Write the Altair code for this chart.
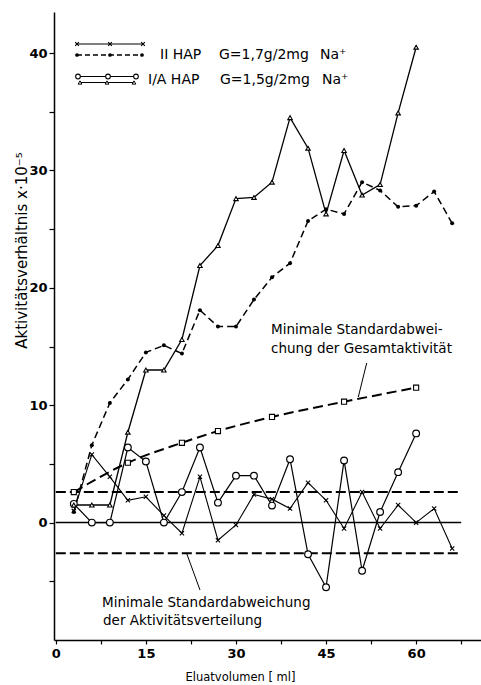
import altair as alt
import pandas as pd

# ---------------- data ----------------
vol_ii = [3, 6, 9, 12, 15, 18, 21, 24, 27, 30, 33, 36, 39, 42, 45, 48, 51, 54, 57, 60, 63, 66]
cross_vals = [1.0, 5.8, 3.9, 1.9, 2.2, 0.6, -0.9, 3.9, -1.5, -0.2, 2.4, 2.0, 1.2, 3.4, 1.9,
              -0.5, 2.6, -0.5, 1.5, 0.0, 1.2, -2.2]
dot_vals = [0.9, 6.6, 10.2, 12.2, 14.5, 15.1, 14.4, 18.1, 16.7, 16.7, 19.0, 20.9, 22.1, 25.7,
            26.7, 26.3, 29.0, 28.3, 26.9, 27.0, 28.2, 25.5]

vol_ia = [3, 6, 9, 12, 15, 18, 21, 24, 27, 30, 33, 36, 39, 42, 45, 48, 51, 54, 57, 60]
circle_vals = [1.6, 0.0, 0.0, 6.4, 5.2, 0.0, 2.6, 6.4, 1.7, 4.0, 4.0, 1.45, 5.4, -2.7, -5.5,
               5.3, -4.1, 0.9, 4.3, 7.6]
triangle_vals = [1.5, 1.5, 1.5, 7.7, 13.0, 13.0, 15.6, 21.9, 23.6, 27.6, 27.7, 29.0, 34.5,
                 31.9, 26.3, 31.7, 27.9, 28.8, 34.9, 40.5]

vol_std = [3, 12, 21, 27, 36, 48, 60]
std_total_vals = [2.6, 5.1, 6.8, 7.8, 9.0, 10.3, 11.5]

std_dist = 2.6          # +/- minimal standard deviation of the distribution
line_range = [0, 67.5]  # extent of the horizontal reference lines (ml)

x_ticks = [0, 7.5, 15, 22.5, 30, 37.5, 45, 52.5, 60, 67.5]
y_ticks = [-5, 0, 5, 10, 15, 20, 25, 30, 35, 40]

df_cross = pd.DataFrame({"ml": vol_ii, "v": cross_vals})
df_dot = pd.DataFrame({"ml": vol_ii, "v": dot_vals})
df_circle = pd.DataFrame({"ml": vol_ia, "v": circle_vals})
df_tri = pd.DataFrame({"ml": vol_ia, "v": triangle_vals})
df_std = pd.DataFrame({"ml": vol_std, "v": std_total_vals})

FONT = "DejaVu Sans"
INK = "black"

x_scale = alt.Scale(domain=[-0.3, 70.8], nice=False, zero=False)
y_scale = alt.Scale(domain=[-10, 43.5], nice=False, zero=False)

x_axis = alt.Axis(
    values=x_ticks,
    labelExpr="datum.value % 15 === 0 ? datum.label : ''",
    title="Eluatvolumen [ ml]",
    titleX=186, titleY=37, titleBaseline="middle", titleAlign="center",
    titleFontSize=11.5, titleFontWeight="normal",
    labelFontSize=13, labelFontWeight="bold", labelPadding=3,
    tickSize=4, labelFlush=False,
)
y_axis = alt.Axis(
    values=y_ticks,
    labelExpr="datum.value % 10 === 0 ? datum.label : ''",
    title="Aktivitätsverhältnis x·10⁻⁵",
    titleAngle=270, titleX=-33, titleY=238, titleBaseline="middle", titleAlign="center",
    titleFontSize=15, titleFontWeight="normal",
    labelFontSize=13, labelFontWeight="bold", labelPadding=2,
    tickSize=5,
)

X = alt.X("ml:Q", scale=x_scale, axis=x_axis)
Y = alt.Y("v:Q", scale=y_scale, axis=y_axis)

cross_path = "M-1,-1L1,1M-1,1L1,-1"

layers = []

# horizontal reference lines
for val, dash, w in [(0, None, 1.5), (std_dist, [10, 4], 2.0), (-std_dist, [10, 4], 2.0)]:
    kw = dict(color=INK, strokeWidth=w)
    if dash:
        kw["strokeDash"] = dash
    layers.append(
        alt.Chart(pd.DataFrame({"a": [0]})).mark_rule(**kw).encode(
            x=alt.datum(line_range[0], type="quantitative", scale=x_scale),
            x2=alt.datum(line_range[1]),
            y=alt.datum(val, type="quantitative", scale=y_scale),
        )
    )

# standard deviation of total activity (smooth dashed curve)
layers.append(alt.Chart(df_std).mark_line(color=INK, strokeWidth=2, strokeDash=[10, 5],
                                          interpolate="monotone").encode(x=X, y=Y))
# series lines
layers.append(alt.Chart(df_cross).mark_line(color=INK, strokeWidth=1.1).encode(x=X, y=Y))
layers.append(alt.Chart(df_dot).mark_line(color=INK, strokeWidth=1.5, strokeDash=[7, 4]).encode(x=X, y=Y))
layers.append(alt.Chart(df_circle).mark_line(color=INK, strokeWidth=1.2).encode(x=X, y=Y))
layers.append(alt.Chart(df_tri).mark_line(color=INK, strokeWidth=1.3).encode(x=X, y=Y))

# markers
layers.append(alt.Chart(df_std).mark_point(shape="square", size=26, filled=True, fill="white",
                                           stroke=INK, strokeWidth=1.1, opacity=1).encode(x=X, y=Y))
layers.append(alt.Chart(df_cross).mark_point(shape=cross_path, size=18, filled=False,
                                             stroke=INK, strokeWidth=1.1, opacity=1).encode(x=X, y=Y))
layers.append(alt.Chart(df_dot).mark_circle(size=16, color=INK, opacity=1).encode(x=X, y=Y))
layers.append(alt.Chart(df_circle).mark_point(shape="circle", size=45, filled=True, fill="white",
                                              stroke=INK, strokeWidth=1.2, opacity=1).encode(x=X, y=Y))
layers.append(alt.Chart(df_tri).mark_point(shape="triangle-up", size=20, filled=True, fill="white",
                                           stroke=INK, strokeWidth=1.1, opacity=1).encode(x=X, y=Y))

# ---------------- legend (drawn) ----------------
one = pd.DataFrame({"a": [0]})


def hrule(x1, x2, y, **kw):
    return alt.Chart(one).mark_rule(color=INK, **kw).encode(
        x=alt.value(x1), x2=alt.value(x2), y=alt.value(y))


def pt(x, y, **kw):
    return alt.Chart(one).mark_point(opacity=1, **kw).encode(x=alt.value(x), y=alt.value(y))


def txt(x, y, s, size=14, align="left"):
    return alt.Chart(one).mark_text(text=s, font=FONT, fontSize=size, align=align,
                                    baseline="middle", color=INK).encode(
        x=alt.value(x), y=alt.value(y))


layers.append(hrule(23, 89, 32, strokeWidth=1.1))
for xx in [23, 56, 89]:
    layers.append(pt(xx, 32, shape=cross_path, size=14, filled=False, stroke=INK, strokeWidth=1.1))
layers.append(hrule(23, 88, 43, strokeWidth=1.4, strokeDash=[5, 3]))
for xx in [23, 56, 88]:
    layers.append(pt(xx, 43, shape="circle", size=14, filled=True, color=INK))
layers.append(hrule(24, 83, 64.5, strokeWidth=1.2))
for xx in [24, 54, 82]:
    layers.append(pt(xx, 64.5, shape="circle", size=22, filled=True, fill="white", stroke=INK, strokeWidth=1.1))
layers.append(hrule(26, 80, 70.5, strokeWidth=1.2))
for xx in [26, 53, 80]:
    layers.append(pt(xx, 70.5, shape="triangle-up", size=14, filled=True, fill="white", stroke=INK, strokeWidth=1))

layers.append(txt(106, 43, "II HAP"))
layers.append(txt(165, 43, "G=1,7g/2mg"))
layers.append(txt(266, 43, "Na⁺"))
layers.append(txt(94, 68, "I/A HAP"))
layers.append(txt(166, 68, "G=1,5g/2mg"))
layers.append(txt(268, 68, "Na⁺"))

# ---------------- annotations ----------------
layers.append(txt(217, 318, "Minimale Standardabwei-", size=13.5))
layers.append(txt(217, 337, "chung der Gesamtaktivität", size=13.5))
layers.append(alt.Chart(one).mark_rule(color=INK, strokeWidth=1).encode(
    x=alt.value(312.7), y=alt.value(351), x2=alt.value(304.3), y2=alt.value(385)))

layers.append(txt(48, 591, "Minimale Standardabweichung", size=13.5))
layers.append(txt(49, 609, "der Aktivitätsverteilung", size=13.5))
layers.append(alt.Chart(one).mark_rule(color=INK, strokeWidth=1).encode(
    x=alt.value(132.5), y=alt.value(541), x2=alt.value(146), y2=alt.value(578)))

chart = alt.layer(*layers).properties(
    width=427, height=628,
    padding={"left": 54, "top": 12, "right": 0, "bottom": 45},
    autosize=alt.AutoSizeParams(type="none"),
    background="white",
).configure_view(stroke=None).configure_axis(
    grid=False, domainColor=INK, domainWidth=1.5, tickColor=INK, tickWidth=1.2,
    labelColor=INK, titleColor=INK, labelFont=FONT, titleFont=FONT,
)

chart.save("out.html", embed_options={"renderer": "svg", "actions": False})
